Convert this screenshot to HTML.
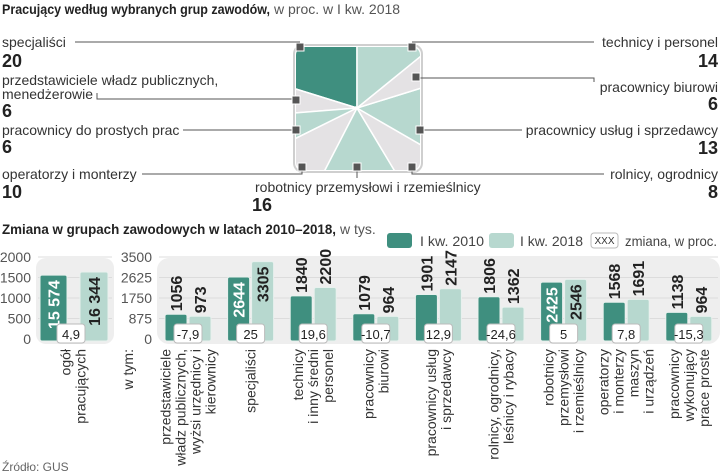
<!DOCTYPE html>
<html><head><meta charset="utf-8">
<style>
html,body{margin:0;padding:0;background:#fff;}
svg{display:block;font-family:"Liberation Sans",sans-serif;}
</style></head>
<body>
<svg id="c" width="720" height="473" viewBox="0 0 720 473" xmlns="http://www.w3.org/2000/svg">
<text x="2" y="14" font-size="14" font-weight="bold" fill="#222" textLength="268" lengthAdjust="spacingAndGlyphs">Pracujący według wybranych grup zawodów,</text>
<text x="274" y="14" font-size="14" fill="#555">w proc. w I kw. 2018</text>
<text x="2" y="234" font-size="14" font-weight="bold" fill="#222" textLength="334" lengthAdjust="spacingAndGlyphs">Zmiana w grupach zawodowych w latach 2010–2018,</text>
<text x="340" y="234" font-size="14" fill="#555">w tys.</text>
<g id="pie"></g>
<g id="pielabels"></g>
<g id="legend">
  <rect x="387" y="233" width="25" height="15" rx="3" fill="#3f8f7f"/>
  <text x="420" y="246" font-size="14" fill="#444" textLength="64" lengthAdjust="spacingAndGlyphs">I kw. 2010</text>
  <rect x="489" y="233" width="25" height="15" rx="3" fill="#b7d8cf"/>
  <text x="520" y="246" font-size="14" fill="#444" textLength="63" lengthAdjust="spacingAndGlyphs">I kw. 2018</text>
  <rect x="591" y="233" width="27" height="15" rx="3" fill="#fff" stroke="#bbb"/>
  <text x="604.5" y="244" font-size="10" text-anchor="middle" fill="#333">XXX</text>
  <text x="625" y="246" font-size="14" fill="#444" textLength="92" lengthAdjust="spacingAndGlyphs">zmiana, w proc.</text>
</g>
<g id="bars"></g>
<text x="2" y="471" font-size="12" fill="#666">Źródło: GUS</text>
</svg>
<script>
// ---- pie data ----
const pieNames = ["specjaliści","przedstawiciele władz publicznych, menedżerowie","pracownicy do prostych prac","operatorzy i monterzy","robotnicy przemysłowi i rzemieślnicy","rolnicy, ogrodnicy","pracownicy usług i sprzedawcy","pracownicy biurowi","technicy i personel"];
const pieShares = [20,6,6,10,16,8,13,6,14];
// ---- bar data ----
const totalCategory = ["ogół","pracujących"];
const total2010 = [15574];
const total2018 = [16344];
const totalChange = ["4,9"];
const totalTicks = [0,500,1000,1500,2000];
const catLines = [
 ["przedstawiciele","władz publicznych,","wyżsi urzędnicy i","kierownicy"],
 ["specjaliści"],
 ["technicy","i inny średni","personel"],
 ["pracownicy","biurowi"],
 ["pracownicy usług","i sprzedawcy"],
 ["rolnicy, ogrodnicy,","leśnicy i rybacy"],
 ["robotnicy","przemysłowi","i rzemieślnicy"],
 ["operatorzy","i monterzy","maszyn","i urządzeń"],
 ["pracownicy","wykonujący","prace proste"]
];
const v2010 = [1056,2644,1840,1079,1901,1806,2425,1568,1138];
const v2018 = [973,3305,2200,964,2147,1362,2546,1691,964];
const changes = ["-7,9","25","19,6","-10,7","12,9","-24,6","5","7,8","-15,3"];
const groupTicks = [0,875,1750,2625,3500];

const NS="http://www.w3.org/2000/svg";
function mk(tag,attrs,parent){const e=document.createElementNS(NS,tag);for(const k in attrs)e.setAttribute(k,attrs[k]);parent.appendChild(e);return e;}
const DARK="#3f8f7f",LIGHT="#b7d8cf",GRAY="#e4e2e4";

// ---- pie ----
const pie=document.getElementById('pie');
const defs=mk('defs',{},pie);
const cp=mk('clipPath',{id:'sq'},defs);
mk('rect',{x:296,y:47,width:124,height:123,rx:8},cp);
let sh=mk('rect',{x:294,y:45,width:128,height:127,rx:9,fill:"#fff",stroke:"#cfcfcf","stroke-width":2},pie);


const cx=357,cy=108,R=200;
const tot=pieShares.reduce((a,b)=>a+b,0);
let acc=0;
const g=mk('g',{'clip-path':'url(#sq)'},pie);
pieShares.forEach((s,i)=>{
  const a0=(-90-acc/tot*360)*Math.PI/180;acc+=s;
  const a1=(-90-acc/tot*360)*Math.PI/180;
  const large=(s/tot>0.5)?1:0;
  const d=`M${cx},${cy} L${cx+R*Math.cos(a0)},${cy+R*Math.sin(a0)} A${R},${R} 0 ${large} 0 ${cx+R*Math.cos(a1)},${cy+R*Math.sin(a1)} Z`;
  const col=i===0?DARK:(i%2===0?LIGHT:GRAY);
  const p=mk('path',{d:d,fill:col,stroke:"#fff","stroke-width":1.5},g);
  
  
});
// ---- pie labels & leader lines ----
const pl=document.getElementById('pielabels');
function line(pts){const p=mk('polyline',{points:pts,fill:"none",stroke:"#555","stroke-width":1},pl);}
function txt(x,y,s,opts){const t=mk('text',Object.assign({x:x,y:y,'font-size':14,fill:"#333"},opts||{}),pl);t.textContent=s;return t;}
function num(x,y,s,anchor){const t=mk('text',{x:x,y:y,'font-size':18,'font-weight':'bold',fill:"#222",'text-anchor':anchor||'start'},pl);t.textContent=s;}
line("75,42 300,42");
line("97,93 97,99 296,99");
line("183,130 296,130");
line("142,174 302,174 302,168");
line("412,42 594,42");
line("420,78 594,78 594,82");
line("420,130 522,130");
line("412,168 412,174 604,174");
line("357,168 357,178");
txt(2,47,pieNames[0]); num(2,67,String(pieShares[0]));
txt(2,85,"przedstawiciele władz publicznych,"); txt(2,99,"menedżerowie"); num(2,117,String(pieShares[1]));
txt(2,135,pieNames[2]); num(2,153,String(pieShares[2]));
txt(2,179,pieNames[3]); num(2,198,String(pieShares[3]));
txt(255,192,pieNames[4]); num(252,211,String(pieShares[4]));
txt(718,179,pieNames[5],{'text-anchor':'end'}); num(718,198,String(pieShares[5]),'end');
txt(718,135,pieNames[6],{'text-anchor':'end'}); num(718,154,String(pieShares[6]),'end');
txt(718,92,pieNames[7],{'text-anchor':'end'}); num(718,110,String(pieShares[7]),'end');
txt(718,47,pieNames[8],{'text-anchor':'end'}); num(718,67,String(pieShares[8]),'end');
// markers
[[300,47],[412,47],[416,77],[296,100],[296,130],[420,130],[302,167],[357,167],[412,167]].forEach(m=>{
  const r=mk('rect',{x:m[0]-4,y:m[1]-4,width:8,height:8,fill:"#555",stroke:"#fff","stroke-width":1},pl);
  
  
});

// ---- bars ----
const B=document.getElementById('bars');
const Y0=339,H=82;
function yT(v){return Y0-v/2000*H;}       // total panel (values in tens of thousands)
function yG(v){return Y0-v/3500*H;}
let bg1=mk('rect',{x:36,y:258,width:78,height:86,rx:10,fill:"#eeeeee"},B);

let bg2=mk('rect',{x:157,y:258,width:563,height:86,rx:12,fill:"#eeeeee"},B);

totalTicks.forEach(t=>{
  const y=yT(t);
  if(t>0){const l=mk('line',{x1:38,x2:112,y1:y,y2:y,stroke:"#dcdcdc"},B);}
  const tx=mk('text',{x:31,y:y+5,'font-size':14,fill:"#555",'text-anchor':'end'},B);tx.textContent=t;
  
});
groupTicks.forEach(t=>{
  const y=yG(t);
  if(t>0){const l=mk('line',{x1:159,x2:718,y1:y,y2:y,stroke:"#dcdcdc"},B);}
  const tx=mk('text',{x:152,y:y+5,'font-size':14,fill:"#555",'text-anchor':'end'},B);tx.textContent=t;
  
});
function bar(x,w,v,yf,col,name,label,lblInsideColor){
  const top=yf(v);
  const r=mk('rect',{x:x,y:top,width:w,height:Y0-top+2,rx:2,fill:col,stroke:"#e8f1ee","stroke-width":1},B);
  
  
  const cxb=x+w/2+6;
  const labLen=label.length*9.5;
  const inside=(top-3-labLen)<243;
  const ty=inside?top+5:top-3;
  const t=mk('text',{x:cxb,y:ty,'font-size':16,'font-weight':'bold',fill:inside?lblInsideColor:"#222",'text-anchor':inside?'end':'start',transform:`rotate(-90 ${cxb} ${ty})`},B);
  t.textContent=label;
  
  
}
function chg(cx,s){
  const r=mk('rect',{x:cx-14,y:324,width:28,height:19,rx:3,fill:"#fff",stroke:"#bbb"},B);
  
  
  const t=mk('text',{x:cx,y:339,'font-size':13,fill:"#222",'text-anchor':'middle'},B);
  t.textContent=s;
  
  
}
function cat(cx,lines,name){
  const n=lines.length;
  lines.forEach((s,i)=>{
    const x=cx+(i-(n-1)/2)*15+5;
    const t=mk('text',{x:x,y:349,'font-size':14,fill:"#333",'text-anchor':'end',transform:`rotate(-90 ${x} 349)`},B);
    t.textContent=s;
    
    
  });
}
function fmt(v){return String(v).replace(/\B(?=(\d{3})+(?!\d))/g," ");}
bar(40,27,total2010[0]/10,yT,DARK,'bar-total-2010',fmt(total2010[0]),"#fff");
bar(80,28,total2018[0]/10,yT,LIGHT,'bar-total-2018',fmt(total2018[0]),"#222");
chg(71,totalChange[0]);
cat(73,totalCategory,'x-category-label');
cat(128,["w tym:"],'w-tym-label');
const gx0=165,gstep=62.6,bw=22;
v2010.forEach((v,i)=>{
  const x=gx0+i*gstep;
  bar(x,bw,v,yG,DARK,'bar-2010-'+(i+1),String(v),"#fff");
  bar(x+24,bw,v2018[i],yG,LIGHT,'bar-2018-'+(i+1),String(v2018[i]),"#222");
  chg(x+23,changes[i]);
  cat(x+23,catLines[i],'x-category-label');
});
</script>
</body></html>
